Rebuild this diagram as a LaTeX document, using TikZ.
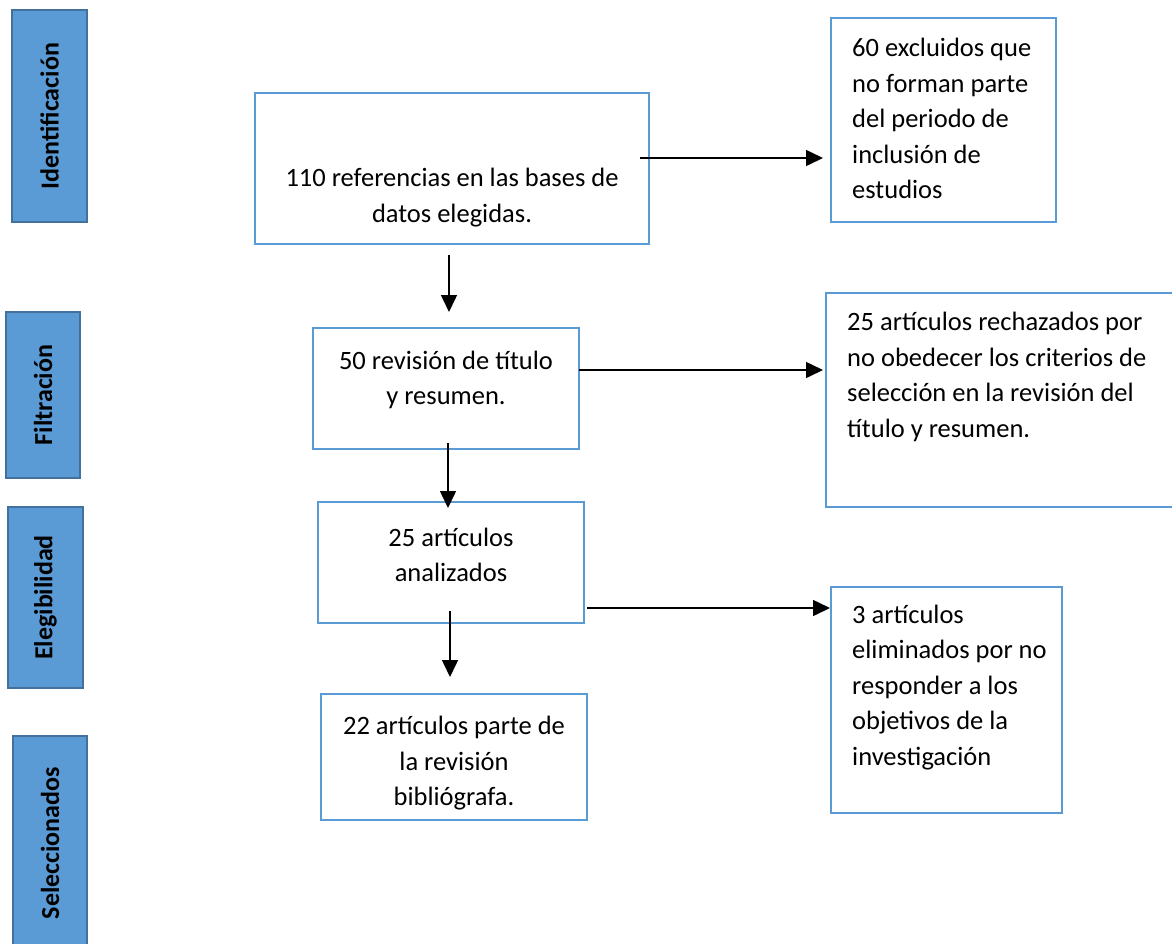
\documentclass[tikz,border=0pt]{standalone}
\usepackage{fontspec}
\setmainfont{Carlito}
\usetikzlibrary{arrows.meta}
\definecolor{boxblue}{HTML}{5B9BD5}
\definecolor{bardark}{HTML}{41719C}
\tikzset{
  phase/.style={draw=bardark, fill=boxblue, line width=2pt, inner sep=0pt},
  phasetext/.style={rotate=90, font=\fontsize{26}{30}\selectfont\bfseries, inner sep=0pt},
  flowbox/.style={draw=boxblue, line width=2.5pt, inner sep=0pt},
  ctext/.style={align=center, font=\fontsize{26.5}{35.5}\selectfont, inner sep=0pt},
  ltext/.style={align=left, font=\fontsize{26.5}{35.5}\selectfont, inner sep=0pt, anchor=west},
  arr/.style={-{Triangle[length=17pt,width=16pt]}, line width=1.5pt, draw=black}
}
\begin{document}
\begin{tikzpicture}[x=1pt,y=-1pt]
\useasboundingbox (0,0) rectangle (1172,943);
% phase bars
\node[phase, minimum width=75pt, minimum height=212pt] (bI) at (49.5,116) {};
\node[phasetext] at (bI.center) {Identificación};
\node[phase, minimum width=74pt, minimum height=166pt] (bF) at (43,395) {};
\node[phasetext] at (bF.center) {Filtración};
\node[phase, minimum width=75pt, minimum height=181pt] (bE) at (45.5,597.5) {};
\node[phasetext] at (bE.center) {Elegibilidad};
\node[phase, minimum width=74pt, minimum height=214pt] (bS) at (50,843) {};
\node[phasetext] at (bS.center) {Seleccionados};
% flow boxes
\node[flowbox, minimum width=394pt, minimum height=151pt] (n1) at (452,168.5) {};
\node[ctext] (t1) at (452,197.5) {110 referencias en las bases de\\datos elegidas.};
\node[flowbox, minimum width=225pt, minimum height=204pt] (n2) at (943.5,120) {};
\node[ltext] (t2) at (852,118.5) {60 excluidos que\\no forman parte\\del periodo de\\inclusión de\\estudios};
\node[flowbox, minimum width=266pt, minimum height=121pt] (n3) at (446,388.5) {};
\node[ctext] (t3) at (446,380) {50 revisión de título\\y resumen.};
\node[flowbox, minimum width=359pt, minimum height=214pt] (n4) at (1005.5,400) {};
\node[ltext] (t4) at (847,377) {25 artículos rechazados por\\no obedecer los criterios de\\selección en la revisión del\\título y resumen.};
\node[flowbox, minimum width=266pt, minimum height=121pt] (n5) at (451,562.5) {};
\node[ctext] (t5) at (451,555) {25 artículos\\analizados};
\node[flowbox, minimum width=231pt, minimum height=226pt] (n6) at (946.5,700) {};
\node[ltext] (t6) at (852,687.5) {3 artículos\\eliminados por no\\responder a los\\objetivos de la\\investigación};
\node[flowbox, minimum width=266pt, minimum height=126pt] (n7) at (454,757) {};
\node[ctext] (t7) at (454,763.5) {22 artículos parte de\\la revisión\\bibliógrafa.};
% connector end points
\coordinate (s1) at (640,158);
\coordinate (e1) at (823,158);
\coordinate (s2) at (449,255);
\coordinate (e2) at (449,312);
\coordinate (s3) at (579,370);
\coordinate (e3) at (823,370);
\coordinate (s4) at (448,443);
\coordinate (e4) at (448,508);
\coordinate (s5) at (587,608);
\coordinate (e5) at (830,608);
\coordinate (s6) at (450,611);
\coordinate (e6) at (450,677);
\draw[arr] (s1) -- (e1);
\draw[arr] (s2) -- (e2);
\draw[arr] (s3) -- (e3);
\draw[arr] (s4) -- (e4);
\draw[arr] (s5) -- (e5);
\draw[arr] (s6) -- (e6);
\end{tikzpicture}
\end{document}
